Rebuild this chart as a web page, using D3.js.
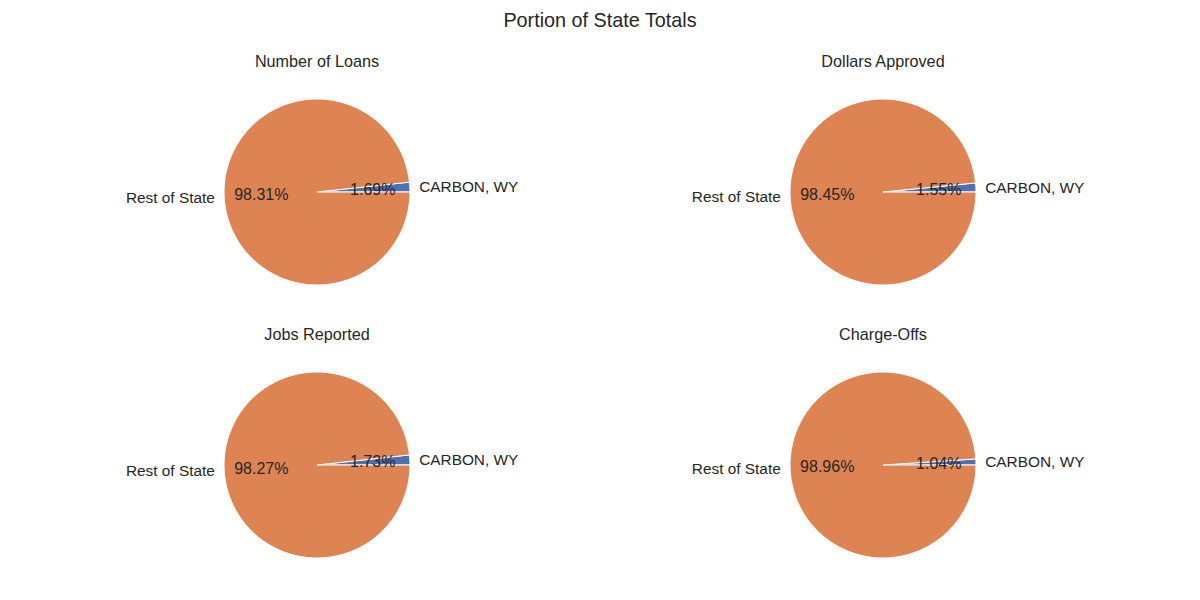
<!DOCTYPE html>
<html>
<head>
<meta charset="utf-8">
<script src="https://cdn.jsdelivr.net/npm/d3@7"></script>
<style>
  body { margin: 0; background: #fff; }
  text { font-family: Arial, "Liberation Sans", sans-serif; fill: #262626; }
</style>
</head>
<body>
<div id="chart"></div>
<script>
// Data
const panelTitles = ["Number of Loans", "Dollars Approved", "Jobs Reported", "Charge-Offs"];
const sliceLabels = ["CARBON, WY", "Rest of State"];
const countyShare = [1.69, 1.55, 1.73, 1.04];
const restShare = [98.31, 98.45, 98.27, 98.96];
const sliceColors = ["#4c72b0", "#dd8452"];

const width = 1200;
const height = 600;
const radius = 93;

const svg = d3.select("#chart")
    .append("svg")
    .attr("width", width)
    .attr("height", height);

svg.append("text")
    .attr("x", width / 2)
    .attr("y", 20)
    .attr("text-anchor", "middle")
    .attr("dominant-baseline", "central")
    .style("font-size", "19.8px")
    .text("Portion of State Totals");

// panel centres
const colX = d3.scalePoint().domain([0, 1]).range([317, 883]);
const rowY = d3.scalePoint().domain([0, 1]).range([192, 465]);

// matplotlib style: start at 3 o'clock, go counter-clockwise
const pie = d3.pie()
    .sort(null)
    .value(d => d.value)
    .startAngle(Math.PI / 2)
    .endAngle(Math.PI / 2 - 2 * Math.PI);

const arc = d3.arc().innerRadius(0).outerRadius(radius);

panelTitles.forEach((title, i) => {
    const cx = colX(i % 2);
    const cy = rowY(Math.floor(i / 2));
    const g = svg.append("g").attr("transform", `translate(${cx},${cy})`);

    const data = [
        {label: sliceLabels[0], value: countyShare[i], color: sliceColors[0]},
        {label: sliceLabels[1], value: restShare[i], color: sliceColors[1]}
    ];
    const arcs = pie(data);

    g.append("text")
        .attr("x", 0)
        .attr("y", -131)
        .attr("text-anchor", "middle")
        .attr("dominant-baseline", "central")
        .style("font-size", "16.2px")
        .text(title);

    g.selectAll("path")
        .data(arcs)
        .join("path")
        .attr("d", arc)
        .attr("fill", d => d.data.color)
        .attr("stroke", "#fff")
        .attr("stroke-width", 1)
        .attr("stroke-linejoin", "round");

    const mid = d => (d.startAngle + d.endAngle) / 2;

    // outer labels at 1.1 r
    g.selectAll("text.lbl")
        .data(arcs)
        .join("text")
        .attr("class", "lbl")
        .attr("x", d => Math.sin(mid(d)) * radius * 1.1)
        .attr("y", d => -Math.cos(mid(d)) * radius * 1.1)
        .attr("text-anchor", d => Math.sin(mid(d)) > 0 ? "start" : "end")
        .attr("dominant-baseline", "central")
        .style("font-size", "15.4px")
        .text(d => d.data.label);

    // percentages at 0.6 r
    g.selectAll("text.pct")
        .data(arcs)
        .join("text")
        .attr("class", "pct")
        .attr("x", d => Math.sin(mid(d)) * radius * 0.6)
        .attr("y", d => -Math.cos(mid(d)) * radius * 0.6)
        .attr("text-anchor", "middle")
        .attr("dominant-baseline", "central")
        .style("font-size", "16px")
        .text(d => d.data.value.toFixed(2) + "%");
});
</script>
</body>
</html>
